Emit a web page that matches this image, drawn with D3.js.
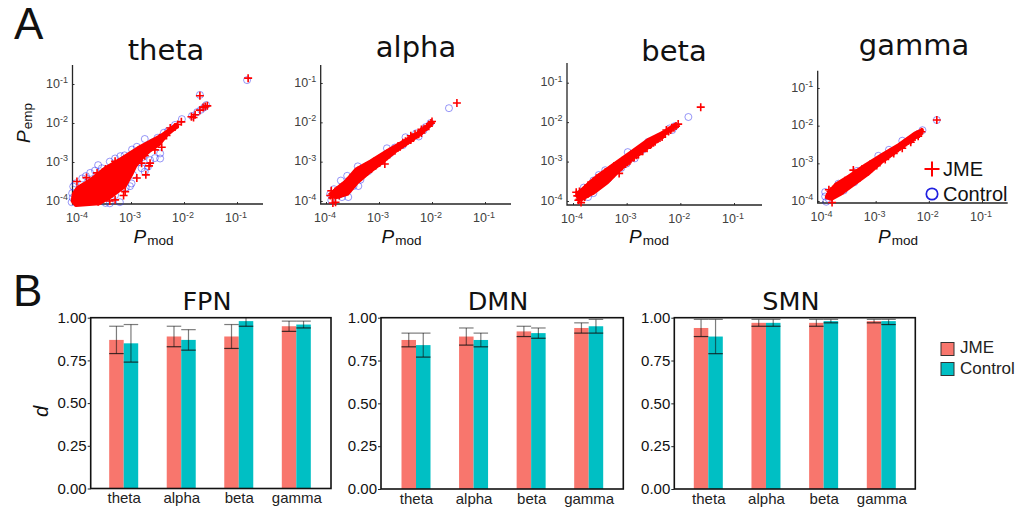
<!DOCTYPE html>
<html><head><meta charset="utf-8">
<script src="https://d3js.org/d3.v7.min.js"></script>
<style>html,body{margin:0;padding:0;background:#fff}svg{display:block}</style>
</head><body><svg id="c" width="1033" height="510"></svg>
<script>
// Part A: values, as [log10 Pmod, log10 Pemp]
const thetaControl=[[-1.7,-1.28],[-0.81,-0.9],[-1.58,-1.54],[-1.62,-1.6],[-1.68,-1.66],[-1.75,-1.72],[-1.85,-1.82],[-2.04,-1.9],[-2.17,-2.05],[-2.3,-2.2],[-2.38,-2.25],[-2.45,-2.78],[-2.45,-2.91],[-2.64,-2.95],[-2.74,-3.25],[-2.68,-3.12],[-2.8,-3.16],[-2.96,-3.33],[-2.99,-3.55],[-3.02,-3.62],[-3.21,-4.03],[-3.3,-3.85],[-3.4,-4.06],[-3.62,-3.08],[-3.55,-3.16],[-3.77,-3.28],[-3.68,-3.22],[-4.11,-3.8],[-4.12,-4.03],[-4.1,-3.92],[-4.09,-3.63],[-3.4,-2.99],[-3.3,-2.91],[-3.2,-2.85],[-2.89,-2.61],[-2.74,-2.41],[-2.98,-2.68],[-3.12,-2.83],[-2.77,-2.87],[-3.34,-3.76],[-2.85,-3.0],[-3.1,-3.66],[-3.48,-4.05],[-3.92,-3.42],[-4.05,-3.55],[-3.85,-3.36],[-2.6,-2.5],[-2.5,-2.38],[-2.55,-2.9],[-3.6,-3.6],[-3.4,-3.4],[-3.2,-3.5],[-3.75,-3.75],[-3.5,-3.8],[-3.0,-3.05],[-3.3,-3.2],[-3.9,-3.95],[-3.1,-3.3],[-2.7,-2.7]];
const thetaJME=[
[-4.02,-4.0],[-3.94,-4.01],[-3.86,-3.99],[-3.78,-4.0],[-3.7,-4.0],[-3.62,-4.02],
[-3.98,-3.9],[-3.9,-3.91],[-3.82,-3.89],[-3.74,-3.9],[-3.66,-3.9],[-3.58,-3.92],[-3.5,-3.9],
[-4.02,-3.8],[-3.94,-3.81],[-3.86,-3.79],[-3.78,-3.8],[-3.7,-3.8],[-3.62,-3.82],[-3.54,-3.8],[-3.46,-3.79],
[-3.95,-3.7],[-3.87,-3.7],[-3.78,-3.71],[-3.7,-3.69],[-3.62,-3.7],[-3.54,-3.7],[-3.46,-3.72],[-3.38,-3.7],[-3.32,-3.69],
[-3.8,-3.6],[-3.72,-3.61],[-3.64,-3.6],[-3.56,-3.59],[-3.48,-3.6],[-3.4,-3.6],[-3.32,-3.61],[-3.24,-3.6],
[-3.7,-3.5],[-3.62,-3.51],[-3.54,-3.49],[-3.46,-3.5],[-3.38,-3.5],[-3.3,-3.52],[-3.2,-3.5],
[-3.6,-3.4],[-3.52,-3.41],[-3.44,-3.39],[-3.36,-3.4],[-3.28,-3.4],[-3.2,-3.42],[-3.14,-3.4],
[-3.51,-3.3],[-3.44,-3.31],[-3.36,-3.29],[-3.28,-3.3],[-3.2,-3.3],[-3.12,-3.32],
[-3.4,-3.2],[-3.32,-3.21],[-3.24,-3.19],[-3.16,-3.2],[-3.08,-3.2],
[-3.28,-3.1],[-3.2,-3.11],[-3.12,-3.09],[-3.04,-3.1],
[-3.15,-3.0],[-3.08,-3.01],[-3.02,-2.99],[-2.97,-3.0],
[-3.03,-2.9],[-2.97,-2.91],[-2.92,-2.89],[-2.85,-2.95],
[-2.9,-2.8],[-2.85,-2.81],[-2.82,-2.79],[-2.74,-2.84],
[-2.8,-2.7],[-2.76,-2.71],[-2.72,-2.69],
[-2.67,-2.6],[-2.64,-2.61],[-2.62,-2.59],
[-2.55,-2.5],[-2.52,-2.51],
[-2.42,-2.4],[-2.46,-2.38],
[-4.02,-3.5],[-3.84,-3.4],[-3.4,-4.0],[-3.11,-3.76],[-3.14,-3.86],[-3.3,-3.97],[-2.89,-3.41],[-2.72,-3.33],[-2.8,-3.03],[-2.64,-3.03],[-2.66,-3.1],[-2.55,-2.69],[-2.42,-2.62],[-3.64,-3.28],[-3.48,-3.18],[-3.3,-2.98],
[-2.33,-2.32],[-2.26,-2.13],[-2.17,-2.1],[-2.05,-1.97],[-2.12,-2.04],[-1.86,-1.84],[-1.79,-1.79],[-1.82,-1.86],[-1.7,-1.67],[-1.64,-1.6],[-1.6,-1.58],[-1.56,-1.56],[-1.7,-1.3],[-0.79,-0.85]];
const alphaControl=[[-1.68,-1.64],[-2.03,-2.02],[-2.12,-2.12],[-2.16,-2.2],[-2.3,-2.28],[-2.5,-2.38],[-2.55,-2.58],[-2.85,-2.66],[-2.95,-2.98],[-3.05,-2.98],[-3.2,-3.24],[-3.32,-3.3],[-3.4,-3.12],[-3.35,-3.46],[-3.6,-3.36],[-3.58,-3.72],[-3.39,-3.62],[-3.58,-3.9],[-3.75,-3.84],[-3.72,-3.48],[-3.85,-3.7],[-3.92,-3.82],[-3.9,-3.98],[-3.7,-3.9],[-3.48,-3.62],[-2.7,-2.64],[-2.25,-2.36],[-3.1,-3.1],[-3.5,-3.5],[-2.8,-2.8]];
const alphaJME=[
[-1.53,-1.51],[-2.0,-1.98],[-2.06,-2.1],[-2.02,-2.02],[-2.2,-2.18],[-2.15,-2.16],[-2.27,-2.3],[-2.32,-2.3],[-2.38,-2.4],[-2.4,-2.34],[-2.45,-2.46],[-2.5,-2.48],[-2.55,-2.52],[-2.6,-2.62],[-2.64,-2.6],[-2.7,-2.72],[-2.74,-2.7],[-2.8,-2.82],[-2.84,-2.78],[-2.9,-2.92],[-2.94,-2.88],[-2.98,-3.02],[-3.02,-2.97],[-3.06,-3.1],[-3.1,-3.04],[-3.14,-3.18],[-3.18,-3.1],[-3.22,-3.26],[-3.26,-3.2],[-3.3,-3.24],[-3.35,-3.3],[-3.4,-3.34],[-3.45,-3.38],[-3.5,-3.42],[-3.55,-3.46],[-3.6,-3.52],[-3.64,-3.56],[-3.68,-3.62],[-3.73,-3.66],[-3.78,-3.72],[-3.83,-3.76],[-3.88,-3.82],[-3.88,-3.92],[-3.9,-3.74],[-3.92,-3.86],[-3.87,-4.05],[-3.82,-4.03],[-2.89,-3.06],
[-3.85,-3.8],[-3.7,-3.64],[-3.55,-3.43],[-3.4,-3.23],[-3.25,-3.12],[-3.1,-3.0],[-2.95,-2.88],[-2.8,-2.75],[-2.65,-2.64],[-2.5,-2.52],[-2.35,-2.4],[-2.2,-2.27],
[-3.75,-3.86],[-3.6,-3.72],[-3.45,-3.52],[-3.3,-3.34],[-3.15,-3.18],[-3.0,-3.03],[-2.85,-2.86],[-2.7,-2.69],[-2.55,-2.56],[-2.4,-2.45],[-2.25,-2.3],[-2.1,-2.12]];
const betaControl=[[-1.85,-1.87],[-2.1,-2.1],[-2.15,-2.2],[-2.4,-2.38],[-2.6,-2.5],[-2.98,-2.76],[-3.1,-3.16],[-3.25,-3.2],[-3.4,-3.22],[-3.52,-3.34],[-3.55,-3.62],[-3.62,-3.8],[-3.72,-3.9],[-3.62,-3.48],[-3.8,-3.66],[-3.35,-3.44],[-2.85,-2.92],[-3.0,-3.05],[-2.7,-2.7],[-2.2,-2.16]];
const betaJME=[
[-1.62,-1.62],[-2.04,-2.05],[-2.08,-2.1],[-2.12,-2.14],[-2.16,-2.14],[-2.22,-2.24],[-2.26,-2.2],[-2.34,-2.38],[-2.38,-2.4],[-2.43,-2.42],[-2.47,-2.5],[-2.5,-2.45],[-2.54,-2.56],[-2.58,-2.54],[-2.62,-2.66],[-2.66,-2.62],[-2.7,-2.74],[-2.74,-2.7],[-2.78,-2.82],[-2.82,-2.76],[-2.86,-2.9],[-2.9,-2.84],[-2.94,-2.98],[-2.98,-2.92],[-3.02,-3.06],[-3.06,-3.0],[-3.1,-3.13],[-3.13,-3.07],[-3.2,-3.14],[-3.26,-3.2],[-3.32,-3.26],[-3.38,-3.32],[-3.44,-3.38],[-3.5,-3.44],[-3.55,-3.48],[-3.6,-3.54],[-3.65,-3.58],[-3.7,-3.64],[-3.75,-3.7],[-3.79,-3.74],[-3.83,-3.78],[-3.84,-3.92],[-3.88,-3.82],[-3.88,-3.96],[-3.92,-3.87],[-3.9,-3.98],[-3.94,-3.78],[-3.85,-4.04],[-3.14,-3.3],
[-3.88,-3.76],[-3.72,-3.6],[-3.56,-3.42],[-3.4,-3.27],[-3.24,-3.12],[-3.08,-2.98],[-2.92,-2.82],[-2.76,-2.7],[-2.6,-2.54],[-2.44,-2.42],[-2.28,-2.3],
[-3.78,-3.9],[-3.62,-3.74],[-3.46,-3.54],[-3.3,-3.38],[-3.14,-3.2],[-2.98,-3.02],[-2.82,-2.84],[-2.66,-2.66],[-2.5,-2.52],[-2.34,-2.34],[-2.18,-2.2]];
const gammaControl=[[-1.85,-1.85],[-2.12,-2.12],[-2.2,-2.22],[-2.35,-2.38],[-2.5,-2.4],[-2.75,-2.64],[-2.95,-2.8],[-3.2,-3.22],[-3.35,-3.2],[-3.5,-3.56],[-3.95,-3.76],[-3.95,-3.88],[-3.93,-4.02],[-3.88,-3.95],[-3.78,-3.72],[-3.6,-3.72],[-3.7,-3.54],[-3.0,-3.0],[-2.7,-2.7],[-3.4,-3.5]];
const gammaJME=[
[-1.85,-1.85],[-2.14,-2.16],[-2.18,-2.22],[-2.22,-2.24],[-2.26,-2.3],[-2.3,-2.32],[-2.34,-2.38],[-2.38,-2.4],[-2.42,-2.44],[-2.46,-2.48],[-2.5,-2.52],[-2.54,-2.55],[-2.58,-2.6],[-2.62,-2.63],[-2.66,-2.68],[-2.7,-2.71],[-2.74,-2.76],[-2.78,-2.78],[-2.82,-2.84],[-2.86,-2.86],[-2.9,-2.92],[-2.94,-2.93],[-2.98,-3.0],[-3.02,-3.01],[-3.06,-3.08],[-3.1,-3.08],[-3.14,-3.16],[-3.18,-3.15],[-3.22,-3.24],[-3.26,-3.22],[-3.3,-3.32],[-3.34,-3.3],[-3.4,-3.36],[-3.46,-3.42],[-3.52,-3.46],[-3.57,-3.5],[-3.62,-3.54],[-3.67,-3.58],[-3.72,-3.62],[-3.77,-3.66],[-3.81,-3.7],[-3.85,-3.74],[-3.86,-3.82],[-3.83,-3.88],[-3.82,-4.04],[-3.42,-3.18],
[-3.88,-3.7],[-3.74,-3.62],[-3.58,-3.46],[-3.42,-3.32],[-3.26,-3.16],[-3.1,-3.02],[-2.94,-2.9],[-2.78,-2.76],[-2.62,-2.62],[-2.46,-2.48],[-2.3,-2.32],
[-3.78,-3.84],[-3.62,-3.72],[-3.46,-3.54],[-3.3,-3.38],[-3.14,-3.22],[-2.98,-3.06],[-2.82,-2.9],[-2.66,-2.74],[-2.5,-2.6],[-2.34,-2.44],[-2.2,-2.28]];
// Outline of the saturated region of each cloud, where single points cannot be read
const thetaCloud=[[-4.08,-3.82],[-4.0,-3.66],[-3.85,-3.54],[-3.72,-3.42],[-3.47,-3.15],[-3.16,-2.9],[-2.87,-2.65],[-2.65,-2.49],[-2.43,-2.33],[-2.28,-2.18],[-2.15,-2.05],[-2.13,-2.09],[-2.32,-2.29],[-2.47,-2.54],[-2.66,-2.72],[-2.8,-2.9],[-2.92,-3.1],[-3.0,-3.33],[-3.12,-3.62],[-3.4,-3.9],[-3.6,-4.06],[-4.04,-4.1],[-4.1,-4.0]];
const alphaCloud=[[-3.9,-3.82],[-3.78,-3.67],[-3.62,-3.5],[-3.43,-3.2],[-3.15,-2.99],[-2.84,-2.73],[-2.52,-2.48],[-2.24,-2.26],[-2.05,-2.05],[-2.0,-2.02],[-2.18,-2.25],[-2.44,-2.5],[-2.72,-2.76],[-2.94,-3.01],[-3.19,-3.27],[-3.41,-3.52],[-3.6,-3.82],[-3.8,-3.9],[-3.88,-3.87]];
const betaCloud=[[-3.9,-3.8],[-3.69,-3.54],[-3.5,-3.33],[-3.2,-3.04],[-2.89,-2.74],[-2.58,-2.44],[-2.27,-2.23],[-2.1,-2.07],[-2.12,-2.11],[-2.3,-2.3],[-2.55,-2.59],[-2.83,-2.84],[-3.11,-3.18],[-3.36,-3.52],[-3.6,-3.77],[-3.82,-3.94],[-3.92,-3.87]];
const gammaCloud=[[-3.9,-3.83],[-3.75,-3.57],[-3.5,-3.35],[-3.18,-3.04],[-2.87,-2.77],[-2.56,-2.51],[-2.25,-2.2],[-2.13,-2.12],[-2.14,-2.18],[-2.34,-2.39],[-2.6,-2.66],[-2.9,-2.97],[-3.15,-3.28],[-3.4,-3.54],[-3.65,-3.8],[-3.83,-3.94],[-3.92,-3.9]];
const spectraTitles=["theta","alpha","beta","gamma"];
const decadeTicks=[-4,-3,-2,-1];
const legendA=["JME","Control"];

// Part B
const bands=["theta","alpha","beta","gamma"];
const groups=["JME","Control"];
const netTitles=["FPN","DMN","SMN"];
const dTicks=[0,0.25,0.5,0.75,1];
const fpnMean=[[.87,.85],[.89,.87],[.89,.98],[.95,.96]];
const fpnLow=[[.79,.74],[.83,.81],[.82,.95],[.92,.94]];
const fpnHigh=[[.95,.96],[.95,.93],[.96,1.01],[.98,.98]];
const dmnMean=[[.87,.84],[.89,.87],[.92,.91],[.94,.95]];
const dmnLow=[[.83,.77],[.84,.83],[.89,.88],[.91,.91]];
const dmnHigh=[[.91,.91],[.94,.91],[.95,.94],[.97,.99]];
const smnMean=[[.94,.89],[.97,.97],[.97,.98],[.98,.98]];
const smnLow=[[.89,.79],[.95,.95],[.95,.97],[.97,.96]];
const smnHigh=[[.99,.99],[.99,.99],[.99,.99],[.99,.99]];

const svg=d3.select("#c");
const SANS="'Liberation Sans',Arial,sans-serif", DJ="'DejaVu Sans',sans-serif";
const RED="#ff0000",BLUE="#3030f0";
const plus=s=>`M${-s},0H${s}M0,${-s}V${s}`;

function scatter(o){
  const g=svg.append("g");
  const x=d3.scaleLinear().domain([-4,-1]).range([o.x4,o.x1]);
  const y=d3.scaleLinear().domain([-4,-1]).range([o.y4,o.y1]);
  const ax=g.append("g").attr("transform",`translate(0,${o.bottom})`)
    .call(d3.axisBottom(x).tickValues(decadeTicks).tickSize(-2).tickFormat(""));
  const ay=g.append("g").attr("transform",`translate(${o.left},0)`)
    .call(d3.axisLeft(y).tickValues(decadeTicks).tickSize(-2).tickFormat(""));
  [ax,ay].forEach(a=>{a.selectAll("path").remove();a.selectAll("line").attr("stroke","#333").attr("stroke-width",1);});
  g.append("path").attr("d",`M${o.left},${o.top}V${o.bottom}H${o.right}`).attr("fill","none").attr("stroke","#262626").attr("stroke-width",1.3);
  g.selectAll("circle.c").data(o.control).join("circle").attr("class","c")
    .attr("cx",d=>x(d[0])).attr("cy",d=>y(d[1])).attr("r",3.5)
    .attr("fill","none").attr("stroke",BLUE).attr("stroke-width",1).attr("stroke-opacity",.5);
  g.append("path").attr("class","cloud").attr("d",d3.line().x(d=>x(d[0])).y(d=>y(d[1])).curve(d3.curveLinearClosed)(o.cloud))
    .attr("fill",RED).attr("stroke",RED).attr("stroke-width",4).attr("stroke-linejoin","round");
  g.selectAll("path.j").data(o.jme).join("path").attr("class","j")
    .attr("transform",d=>`translate(${x(d[0])},${y(d[1])})`).attr("d",plus(4))
    .attr("fill","none").attr("stroke",RED).attr("stroke-width",1.6);
  decadeTicks.forEach(t=>{
    const lab=(px,py,anchor)=>{
      const e=g.append("text").attr("x",px).attr("y",py).attr("text-anchor",anchor)
        .attr("font-family",SANS).attr("font-size",12.5).attr("fill","#404040");
      e.append("tspan").text("10");
      e.append("tspan").attr("dy",-4.5).attr("font-size",9).text(`-${-t}`);
    };
    lab(x(t)-1,o.bottom+18,"middle");
    lab(o.left-4.5,y(t)+3.5,"end");
  });
  const xl=g.append("text").attr("x",o.x1-o.xdec*2+2.5).attr("y",243).attr("font-family",SANS).attr("fill","#111");
  xl.append("tspan").attr("font-style","italic").attr("font-size",19).text("P");
  xl.append("tspan").attr("dy",2).attr("dx",1).attr("font-size",13.5).text("mod");
  g.append("text").attr("x",o.tx).attr("y",o.ty).attr("text-anchor","middle")
    .attr("font-family",DJ).attr("font-size",29).attr("fill","#111").text(o.title);
}
scatter({title:spectraTitles[0],tx:166,ty:60,cloud:thetaCloud,control:thetaControl,jme:thetaJME,left:72.5,right:263,top:65,bottom:204,x4:78,x1:237,xdec:53,y4:201,y1:84});
scatter({title:spectraTitles[1],tx:416,ty:57,cloud:alphaCloud,control:alphaControl,jme:alphaJME,left:320.7,right:511,top:65,bottom:204,x4:326,x1:485,xdec:53,y4:201,y1:83});
scatter({title:spectraTitles[2],tx:674,ty:61,cloud:betaCloud,control:betaControl,jme:betaJME,left:567,right:762,top:63,bottom:205,x4:573,x1:734,xdec:53.7,y4:201,y1:82.7});
scatter({title:spectraTitles[3],tx:914,ty:55,cloud:gammaCloud,control:gammaControl,jme:gammaJME,left:817.7,right:1007.7,top:70.7,bottom:203,x4:822.5,x1:982,xdec:53.2,y4:201,y1:88});

// Pemp label
const pe=svg.append("text").attr("transform","translate(30,143) rotate(-90)").attr("font-family",SANS).attr("fill","#111");
pe.append("tspan").attr("font-style","italic").attr("font-size",19).text("P");
pe.append("tspan").attr("dy",2).attr("dx",1).attr("font-size",13.5).text("emp");

// Legend A
svg.append("path").attr("transform","translate(932,169)").attr("d",plus(7.5)).attr("fill","none").attr("stroke",RED).attr("stroke-width",2);
svg.append("circle").attr("cx",932).attr("cy",194).attr("r",5.7).attr("fill","none").attr("stroke","#2020e0").attr("stroke-width",1.7);
legendA.forEach((t,i)=>svg.append("text").attr("x",943).attr("y",175.5+i*25.5).attr("font-family",SANS).attr("font-size",20).attr("fill","#111").text(t));

// Letters
svg.append("text").attr("x",14).attr("y",39).attr("font-family",SANS).attr("font-size",44).attr("fill","#111").text("A");
svg.append("text").attr("x",13).attr("y",306).attr("font-family",SANS).attr("font-size",44).attr("fill","#111").text("B");

// Bars
const fills=["#F8766D","#00BFC4"];
function bars(o){
  const g=svg.append("g");
  const x=d3.scalePoint().domain(bands).range([o.c0,o.c3]);
  const y=d3.scaleLinear().domain([0,1]).range([o.bottom,o.top]);
  const w=14.5;
  bands.forEach((b,i)=>groups.forEach((s,j)=>{
    const cx=x(b)+(j?0:-w);
    g.append("rect").attr("x",cx).attr("width",w).attr("y",y(o.mean[i][j])).attr("height",o.bottom-y(o.mean[i][j])).attr("fill",fills[j]);
  }));
  bands.forEach((b,i)=>groups.forEach((s,j)=>{
    const cx=x(b)+(j?0:-w), m=cx+w/2, lo=y(o.low[i][j]), hi=Math.max(y(o.high[i][j]),o.top);
    const e=g.append("g").attr("stroke","#111").attr("stroke-opacity",.55).attr("stroke-width",1.2);
    e.append("line").attr("x1",m).attr("x2",m).attr("y1",lo).attr("y2",hi);
    e.append("line").attr("x1",cx).attr("x2",cx+w).attr("y1",lo).attr("y2",lo).attr("stroke-opacity",.8);
    if(o.high[i][j]<=1) e.append("line").attr("x1",cx).attr("x2",cx+w).attr("y1",hi).attr("y2",hi);
  }));
  g.append("rect").attr("x",o.left).attr("y",o.top).attr("width",o.right-o.left).attr("height",o.bottom-o.top).attr("fill","none").attr("stroke","#111").attr("stroke-width",1.6);
  const ay=g.append("g").attr("transform",`translate(${o.left},0)`)
    .call(d3.axisLeft(y).tickValues(dTicks).tickSize(3).tickPadding(1).tickFormat(d3.format(".2f")));
  ay.select("path").remove();
  ay.selectAll("text").attr("font-family",SANS).attr("font-size",15).attr("fill","#111");
  ay.selectAll("line").attr("stroke","#222");
  const ax=g.append("g").attr("transform",`translate(0,${o.bottom})`)
    .call(d3.axisBottom(x).tickSize(0).tickPadding(4));
  ax.select("path").remove();
  ax.selectAll("text").attr("font-family",SANS).attr("font-size",15).attr("fill","#222");
  g.append("text").attr("x",o.tx).attr("y",309.5).attr("text-anchor","middle").attr("font-family",DJ).attr("font-size",25.5).attr("fill","#111").text(o.title);
}
bars({title:netTitles[0],tx:207,mean:fpnMean,low:fpnLow,high:fpnHigh,left:90.7,right:331,top:317.7,bottom:488.5,c0:123.7,c3:296.3});
bars({title:netTitles[1],tx:498,mean:dmnMean,low:dmnLow,high:dmnHigh,left:381,right:623.3,top:317.7,bottom:489,c0:416,c3:588.7});
bars({title:netTitles[2],tx:791,mean:smnMean,low:smnLow,high:smnHigh,left:674.3,right:915.3,top:317.7,bottom:489,c0:708.3,c3:881.3});

svg.append("text").attr("transform","translate(48,417) rotate(-90)").attr("font-family",SANS).attr("font-style","italic").attr("font-size",20).attr("fill","#111").text("d");

// Legend B
groups.forEach((t,i)=>{
  svg.append("rect").attr("x",941).attr("y",342.5+i*20).attr("width",13).attr("height",13).attr("fill",fills[i]).attr("stroke","#333").attr("stroke-width",1);
  svg.append("text").attr("x",960).attr("y",353+i*21).attr("font-family",SANS).attr("font-size",17).attr("fill","#222").text(t);
});
</script></body></html>
